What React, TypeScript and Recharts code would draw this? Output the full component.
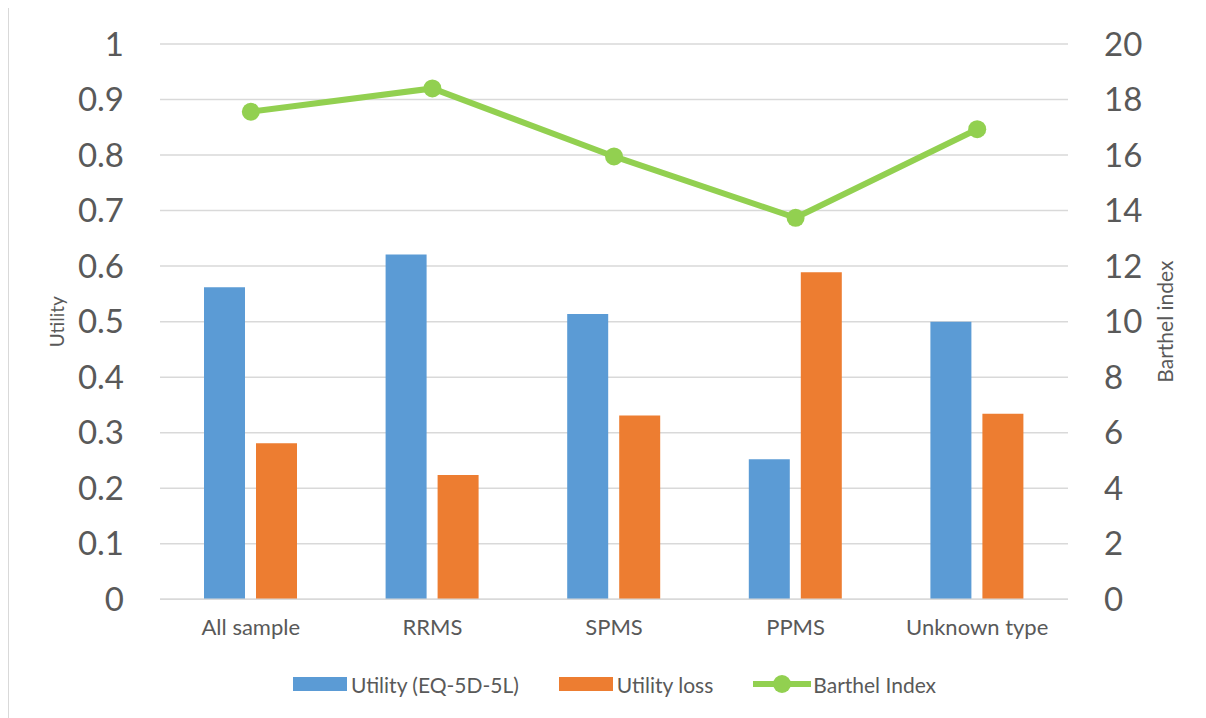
import React from 'react';
import { ComposedChart, Bar, Line, XAxis, YAxis, CartesianGrid, Legend } from 'recharts';

const categories = ['All sample', 'RRMS', 'SPMS', 'PPMS', 'Unknown type'];
const utility = [0.562, 0.621, 0.514, 0.252, 0.5];
const utilityLoss = [0.281, 0.224, 0.331, 0.589, 0.334];
const barthel = [17.56, 18.4, 15.95, 13.74, 16.93];
const leftTicks = [0, 0.1, 0.2, 0.3, 0.4, 0.5, 0.6, 0.7, 0.8, 0.9, 1];
const rightTicks = [0, 2, 4, 6, 8, 10, 12, 14, 16, 18, 20];
const legendOrder = ['utility', 'loss', 'barthel'];

const data = categories.map((name, i) => ({
    name,
    utility: utility[i],
    loss: utilityLoss[i],
    barthel: barthel[i],
}));

const Blue = '#5b9bd5';
const Orange = '#ed7d31';
const Green = '#92d050';
const TextGray = '#595959';
const GridGray = '#d9d9d9';
const FONT = 'Lato, "Open Sans", sans-serif';

function LeftLabel(props: any) {
    const vb = props.viewBox;
    const x = vb.x + 48;
    const y = vb.y + vb.height / 2;
    return (
        <text x={x} y={y} transform={`rotate(-90, ${x}, ${y})`} textAnchor="middle"
            dominantBaseline="central" fill={TextGray} fontSize={19} fontFamily={FONT}>
            Utility
        </text>
    );
}

function RightLabel(props: any) {
    const vb = props.viewBox;
    const x = vb.x + 97;
    const y = vb.y + vb.height / 2;
    return (
        <text x={x} y={y} transform={`rotate(-90, ${x}, ${y})`} textAnchor="middle"
            dominantBaseline="central" fill={TextGray} fontSize={21} fontFamily={FONT}>
            Barthel index
        </text>
    );
}

function LegendContent(props: any) {
    const payload = [...(props.payload || [])].sort(
        (a: any, b: any) => legendOrder.indexOf(a.dataKey) - legendOrder.indexOf(b.dataKey));
    return (
        <div style={{ display: 'flex', justifyContent: 'center', alignItems: 'center', height: 30,
            paddingLeft: 14, fontFamily: FONT, fontSize: 21, color: TextGray }}>
            {payload.map((entry: any, i: number) => (
                <div key={i} style={{ display: 'flex', alignItems: 'center', marginRight: i < payload.length - 1 ? 40 : 0 }}>
                    {entry.dataKey === 'barthel' ? (
                        <svg width={58} height={20} style={{ marginRight: 2 }}>
                            <line x1={0} y1={10} x2={58} y2={10} stroke={Green} strokeWidth={6} />
                            <circle cx={29} cy={10} r={9} fill={Green} />
                        </svg>
                    ) : (
                        <span style={{ display: 'inline-block', width: 54, height: 14, background: entry.color, marginRight: 4 }} />
                    )}
                    <span>{entry.value}</span>
                </div>
            ))}
        </div>
    );
}

export default function App() {
    return (
        <div style={{ marginLeft: -1, marginTop: -8, borderLeft: `2px solid ${GridGray}`, width: 1197, height: 718 }}>
            <ComposedChart width={1197} height={718} data={data}
                margin={{ top: 44, right: 0, bottom: 19, left: 0 }}
                barSize={41} barGap={11}>
                <CartesianGrid yAxisId="left" vertical={false} stroke={GridGray} strokeWidth={1.5} />
                <XAxis dataKey="name" height={69.7} tickLine={false} tickSize={0} tickMargin={20}
                    axisLine={{ stroke: GridGray, strokeWidth: 1.5 }}
                    tick={{ fill: TextGray, fontSize: 22, fontFamily: FONT }} />
                <YAxis yAxisId="left" orientation="left" width={151} domain={[0, 1]} ticks={leftTicks}
                    axisLine={false} tickLine={false} tickSize={0} tickMargin={36} interval={0}
                    tick={{ fill: TextGray, fontSize: 33, fontFamily: FONT }}
                    label={<LeftLabel />} />
                <YAxis yAxisId="right" orientation="right" width={138} domain={[0, 20]} ticks={rightTicks}
                    axisLine={false} tickLine={false} tickSize={0} tickMargin={36} interval={0}
                    tick={{ fill: TextGray, fontSize: 33, fontFamily: FONT, textAnchor: 'start' }}
                    label={<RightLabel />} />
                <Legend verticalAlign="bottom" content={<LegendContent />} />
                <Bar yAxisId="left" dataKey="utility" name="Utility (EQ-5D-5L)" fill={Blue} isAnimationActive={false} />
                <Bar yAxisId="left" dataKey="loss" name="Utility loss" fill={Orange} isAnimationActive={false} />
                <Line yAxisId="right" type="linear" dataKey="barthel" name="Barthel Index" stroke={Green}
                    strokeWidth={6} dot={{ r: 9, fill: Green, stroke: 'none' }} activeDot={false}
                    isAnimationActive={false} />
            </ComposedChart>
        </div>
    );
}
